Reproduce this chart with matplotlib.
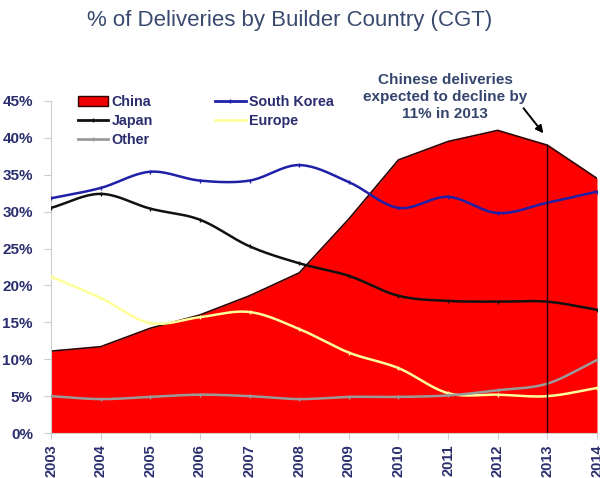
import matplotlib.pyplot as plt
from matplotlib import patches
import numpy as np

plt.rcParams['font.family'] = ['Liberation Sans', 'DejaVu Sans']

years = list(range(2003, 2015))
china = [11.1, 11.7, 14.2, 16.0, 18.6, 21.7, 29.0, 37.0, 39.5, 41.0, 39.0, 34.5]
south_korea = [31.8, 33.2, 35.4, 34.2, 34.2, 36.3, 34.0, 30.5, 32.0, 29.8, 31.2, 32.7]
japan = [30.5, 32.4, 30.4, 28.9, 25.3, 23.0, 21.3, 18.6, 17.9, 17.8, 17.8, 16.7]
europe = [21.2, 18.3, 14.9, 15.7, 16.4, 14.1, 10.9, 8.8, 5.4, 5.2, 5.0, 6.1]
other = [5.0, 4.6, 4.9, 5.2, 5.0, 4.6, 4.9, 4.9, 5.1, 5.8, 6.7, 9.9]

navy = '#2a2d6e'
title_col = '#3a4a6e'


def smooth(x, y, n=20):
    # catmull-rom curve through the points (like excel "smoothed line")
    x = np.asarray(x, float)
    y = np.asarray(y, float)
    px = np.concatenate([[2 * x[0] - x[1]], x, [2 * x[-1] - x[-2]]])
    py = np.concatenate([[2 * y[0] - y[1]], y, [2 * y[-1] - y[-2]]])
    xs, ys = [], []
    t = np.linspace(0, 1, n, endpoint=False)
    for i in range(1, len(px) - 2):
        for p, out in ((px, xs), (py, ys)):
            p0, p1, p2, p3 = p[i - 1], p[i], p[i + 1], p[i + 2]
            out.extend(0.5 * (2 * p1 + (-p0 + p2) * t
                              + (2 * p0 - 5 * p1 + 4 * p2 - p3) * t ** 2
                              + (-p0 + 3 * p1 - 3 * p2 + p3) * t ** 3))
    xs.append(x[-1])
    ys.append(y[-1])
    return np.array(xs), np.array(ys)


fig = plt.figure(figsize=(6, 4.78), dpi=100)
ax = fig.add_axes([0.085, 0.094, 0.91, 0.695])

ax.fill_between(years, china, 0, color='#ff0000', lw=0, zorder=1)
ax.plot(years, china, color='#300000', lw=1.2, zorder=2)

series = [
    (south_korea, '#1f1fa8', 1.8),
    (japan, '#111111', 1.8),
    (europe, '#ffff99', 1.8),
    (other, '#9a9a9a', 1.8),
]
for vals, col, lw in series:
    sx, sy = smooth(years, vals)
    ax.plot(sx, sy, color=col, lw=lw, zorder=3, solid_capstyle='round')
    ax.plot(years, vals, ls='none', marker='|', ms=3, mew=1, color=col, zorder=3)

# 2013 marker line
ax.plot([2013, 2013], [0, china[years.index(2013)]], color='#220000', lw=1, zorder=4)

ax.set_xlim(2003, 2014)
ax.set_ylim(0, 45)
ax.set_xticks(years)
ax.set_xticklabels([str(y) for y in years], rotation=90, fontsize=10.5,
                   fontweight='bold', color=navy)
ax.set_yticks(range(0, 46, 5))
ax.set_yticklabels([f'{v}%' for v in range(0, 46, 5)], fontsize=11,
                   fontweight='bold', color=navy)
ax.tick_params(axis='y', length=5, width=0.8, color='#cccccc', pad=8)
ax.tick_params(axis='x', length=4, width=0.8, color='#cccccc', pad=4)
for s in ['top', 'right']:
    ax.spines[s].set_visible(False)
ax.spines['left'].set_color('#cccccc')
ax.spines['bottom'].set_color('#cccccc')

handles = [
    patches.Patch(facecolor='#ee0000', edgecolor='#300000', label='China'),
    plt.Line2D([], [], color='#111111', lw=2, marker='|', ms=3, label='Japan'),
    plt.Line2D([], [], color='#9a9a9a', lw=2, marker='|', ms=3, label='Other'),
    plt.Line2D([], [], color='#1f1fa8', lw=2, marker='|', ms=3, label='South Korea'),
    plt.Line2D([], [], color='#ffff99', lw=2, label='Europe'),
]
leg = ax.legend(handles=handles, ncol=2, loc='upper left', bbox_to_anchor=(0.025, 1.055),
                frameon=False, handlelength=2.15, handletextpad=0.25,
                columnspacing=4.3, labelspacing=0.32, prop={'weight': 'bold', 'size': 10.3})
for t in leg.get_texts():
    t.set_color(navy)

fig.text(0.483, 0.958, '% of Deliveries by Builder Country (CGT)', ha='center',
         va='center', fontsize=16, color=title_col)
ax.annotate('Chinese deliveries\nexpected to decline by\n11% in 2013',
            xy=(2012.92, 40.6), xytext=(2010.94, 45.5), textcoords='data',
            ha='center', va='center', fontsize=11, fontweight='bold',
            color='#34466e', linespacing=1.25, annotation_clip=False,
            zorder=5)
ax.annotate('', xy=(2012.92, 40.6), xytext=(2012.52, 44.0),
            annotation_clip=False,
            arrowprops=dict(arrowstyle='-|>', color='black', lw=1.4,
                            shrinkA=0, shrinkB=0, mutation_scale=11),
            zorder=5)

fig.savefig('out.png', dpi=100)
